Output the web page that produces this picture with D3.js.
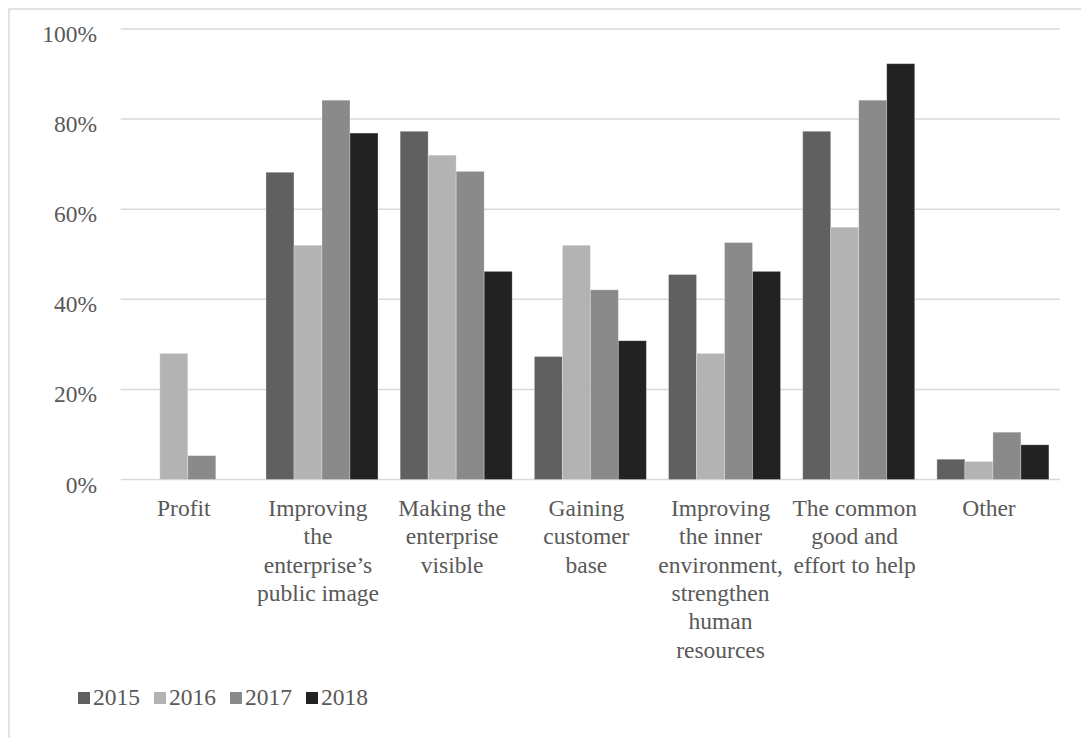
<!DOCTYPE html>
<html>
<head>
<meta charset="utf-8">
<script src="https://cdn.jsdelivr.net/npm/d3@7"></script>
<style>
  body { margin: 0; background: #fff; }
  text { font-family: "Liberation Serif", "Times New Roman", serif; fill: #595959; }
</style>
</head>
<body>
<div id="chart"></div>
<script>
// categories (x-axis labels, line breaks as in the picture)
const categories = [
  "Profit",
  "Improving\nthe\nenterprise\u2019s\npublic image",
  "Making the\nenterprise\nvisible",
  "Gaining\ncustomer\nbase",
  "Improving\nthe inner\nenvironment,\nstrengthen\nhuman\nresources",
  "The common\ngood and\neffort to help",
  "Other"
];
const years = ["2015", "2016", "2017", "2018"];
const colors = ["#606060", "#b3b3b3", "#8a8a8a", "#222222"];

// percent values per year, in category order
const v2015 = [0, 68.2, 77.3, 27.3, 45.5, 77.3, 4.5];
const v2016 = [28, 52, 72, 52, 28, 56, 4];
const v2017 = [5.3, 84.2, 68.4, 42.1, 52.6, 84.2, 10.5];
const v2018 = [0, 76.9, 46.2, 30.8, 46.2, 92.3, 7.7];
const yTicks = [0, 20, 40, 60, 80, 100];

const series = [v2015, v2016, v2017, v2018];

const W = 1081, H = 738;
const svg = d3.select("#chart").append("svg")
  .attr("width", W)
  .attr("height", H);

// outer frame (only left/top visible, runs off the page)
svg.append("rect")
  .attr("x", 9).attr("y", 9)
  .attr("width", W + 10).attr("height", H + 10)
  .attr("fill", "none")
  .attr("stroke", "#d9d9d9")
  .attr("stroke-width", 1.5);

const x0 = d3.scaleBand().domain(categories).range([120.7, 1060]).paddingInner(0).paddingOuter(0);
const x1 = d3.scaleBand().domain(years).range([0, x0.bandwidth()]).paddingInner(0).paddingOuter(0.396);
const y = d3.scaleLinear().domain([0, 100]).range([479.5, 29]);

// gridlines
svg.append("g")
  .selectAll("line")
  .data(yTicks)
  .enter().append("line")
  .attr("x1", 120.7)
  .attr("x2", 1060)
  .attr("y1", d => y(d))
  .attr("y2", d => y(d))
  .attr("stroke", "#d9d9d9")
  .attr("stroke-width", 1.5);

// y labels
svg.append("g")
  .selectAll("text")
  .data(yTicks)
  .enter().append("text")
  .attr("x", 97)
  .attr("y", d => y(d) + 13)
  .attr("text-anchor", "end")
  .style("font-size", "23.5px")
  .text(d => d + "%");

// bars
const groups = svg.append("g")
  .selectAll("g")
  .data(categories)
  .enter().append("g")
  .attr("transform", d => `translate(${x0(d)},0)`);

groups.selectAll("rect")
  .data((d, i) => years.map((yr, j) => ({ yr, j, v: series[j][i] })))
  .enter().append("rect")
  .attr("x", d => x1(d.yr))
  .attr("y", d => y(d.v))
  .attr("width", x1.bandwidth())
  .attr("height", d => y(0) - y(d.v))
  .attr("fill", d => colors[d.j])
  .attr("stroke", "#ffffff")
  .attr("stroke-opacity", 0.35)
  .attr("stroke-width", 0.8);

// x labels
const xl = svg.append("g")
  .selectAll("text")
  .data(categories)
  .enter().append("text")
  .attr("text-anchor", "middle")
  .style("font-size", "23.5px")
  .attr("transform", d => `translate(${x0(d) + x0.bandwidth() / 2 - 4},516)`);

xl.selectAll("tspan")
  .data(d => d.split("\n"))
  .enter().append("tspan")
  .attr("x", 0)
  .attr("y", (d, i) => i * 28.3)
  .text(d => d);

// legend
const legend = svg.append("g").attr("transform", "translate(78,705)");
let lx = 0;
years.forEach((yr, j) => {
  legend.append("rect")
    .attr("x", lx)
    .attr("y", -13)
    .attr("width", 12)
    .attr("height", 12)
    .attr("fill", colors[j]);
  const t = legend.append("text")
    .attr("x", lx + 15)
    .attr("y", 0)
    .style("font-size", "23.5px")
    .text(yr);
  lx += 15 + t.node().getComputedTextLength() + 14;
});
</script>
</body>
</html>
